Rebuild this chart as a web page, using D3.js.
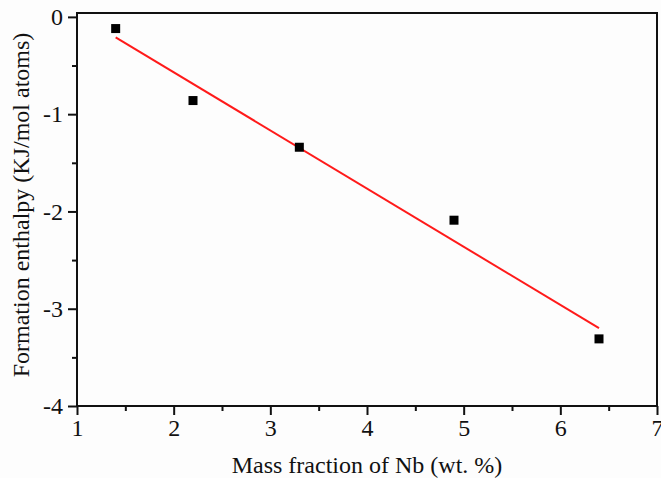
<!DOCTYPE html>
<html>
<head>
<meta charset="utf-8">
<script src="https://cdn.jsdelivr.net/npm/d3@7"></script>
<style>
  body { margin: 0; background: #fdfdfd; }
  text { font-family: "Liberation Serif", "Times New Roman", serif; fill: #111; }
</style>
</head>
<body>
<script>
// measured points
var massNb = [1.4, 2.2, 3.3, 4.9, 6.4];
var enthalpy = [-0.12, -0.86, -1.34, -2.09, -3.31];
// linear fit, endpoints
var fitX = [1.4, 6.4];
var fitY = [-0.21, -3.20];

var xTicks = [1, 2, 3, 4, 5, 6, 7];
var yTicks = [0, -1, -2, -3, -4];

var width = 661, height = 478;
var margin = {left: 77, top: 13, right: 4, bottom: 72};

var svg = d3.select('body').append('svg')
    .attr('width', width)
    .attr('height', height);

var x = d3.scaleLinear().domain([1, 7]).range([margin.left, width - margin.right]);
var y = d3.scaleLinear().domain([-4, 0.04]).range([height - margin.bottom, margin.top]);

// frame
svg.append('rect')
    .attr('x', x(1)).attr('y', y(0.04))
    .attr('width', x(7) - x(1)).attr('height', y(-4) - y(0.04))
    .attr('fill', 'none').attr('stroke', '#111').attr('stroke-width', 2);

// minor ticks
var xAxisMinor = d3.axisBottom(x).tickValues(d3.range(1.5, 7, 1)).tickSize(5).tickFormat('');
var yAxisMinor = d3.axisLeft(y).tickValues(d3.range(-3.5, 0, 1)).tickSize(5).tickFormat('');

svg.append('g').attr('transform', `translate(0,${y(-4)})`).call(xAxisMinor);
svg.append('g').attr('transform', `translate(${x(1)},0)`).call(yAxisMinor);

var xAxis = d3.axisBottom(x).tickValues(xTicks).tickSize(9).tickPadding(4).tickFormat(d3.format('d'));
var yAxis = d3.axisLeft(y).tickValues(yTicks).tickSize(9).tickPadding(5).tickFormat(d => d);

svg.append('g').attr('class', 'ax').attr('transform', `translate(0,${y(-4)})`).call(xAxis);
svg.append('g').attr('class', 'ax').attr('transform', `translate(${x(1)},0)`).call(yAxis);

svg.selectAll('.domain').remove();
svg.selectAll('.tick line').attr('stroke', '#111').attr('stroke-width', 2);
svg.selectAll('.ax').attr('font-size', null).attr('font-family', null);
svg.selectAll('.tick text').style('font-size', '24px').attr('fill', '#111');

// fit line
svg.append('line')
    .attr('x1', x(fitX[0])).attr('y1', y(fitY[0]))
    .attr('x2', x(fitX[1])).attr('y2', y(fitY[1]))
    .attr('stroke', '#ff1a1a').attr('stroke-width', 2);

// points
svg.selectAll('.pt')
    .data(massNb)
    .enter()
    .append('rect')
    .attr('class', 'pt')
    .attr('x', (d) => x(d) - 4.5)
    .attr('y', (d, i) => y(enthalpy[i]) - 4.5)
    .attr('width', 9).attr('height', 9)
    .attr('fill', '#000');

// axis titles
svg.append('text')
    .attr('x', 367).attr('y', 473)
    .attr('text-anchor', 'middle')
    .style('font-size', '24px')
    .text('Mass fraction of Nb (wt. %)');

svg.append('text')
    .attr('transform', `translate(29,205) rotate(-90)`)
    .attr('text-anchor', 'middle')
    .style('font-size', '24px')
    .text('Formation enthalpy (KJ/mol atoms)');
</script>
</body>
</html>
